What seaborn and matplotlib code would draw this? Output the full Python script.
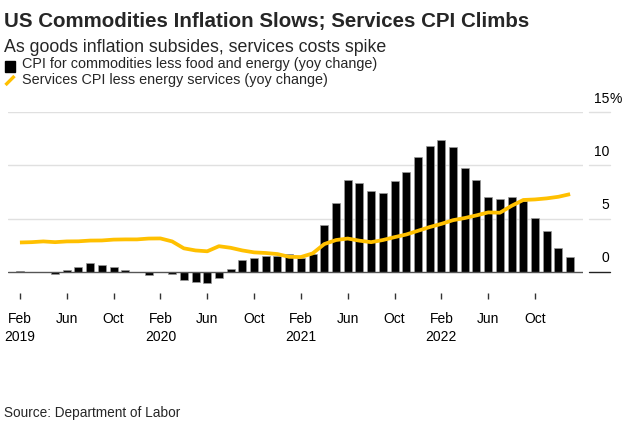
import matplotlib
matplotlib.use("Agg")
import matplotlib.pyplot as plt
import seaborn as sns
import pandas as pd
import numpy as np

# Monthly data, Feb 2019 .. Jan 2023
months = pd.date_range("2019-02-01", "2023-01-01", freq="MS")

goods = [0.1, 0.0, 0.0, -0.2, 0.2, 0.4, 0.8, 0.6, 0.4, 0.2, 0.0, -0.3,
         0.0, -0.2, -0.8, -1.0, -1.1, -0.6, 0.3, 1.1, 1.3, 1.5, 1.5, 1.7,
         1.3, 1.7, 4.4, 6.5, 8.6, 8.3, 7.6, 7.4, 8.5, 9.4, 10.8, 11.8,
         12.4, 11.7, 9.8, 8.6, 7.0, 6.8, 7.0, 6.7, 5.1, 3.8, 2.2, 1.4]

services = [2.75, 2.78, 2.85, 2.78, 2.85, 2.86, 2.93, 2.94, 3.02, 3.04, 3.04, 3.12,
            3.13, 2.85, 2.2, 2.0, 1.92, 2.4, 2.25, 2.0, 1.82, 1.76, 1.66, 1.4,
            1.38, 1.72, 2.6, 2.98, 3.12, 2.92, 2.78, 2.98, 3.25, 3.5, 3.85, 4.2,
            4.5, 4.85, 5.05, 5.3, 5.58, 5.55, 6.2, 6.75, 6.8, 6.9, 7.05, 7.3]

tick_idx = list(range(0, 48, 4))
tick_labels = ["Feb\n2019", "Jun", "Oct", "Feb\n2020", "Jun", "Oct",
               "Feb\n2021", "Jun", "Oct", "Feb\n2022", "Jun", "Oct"]
ytick_vals = [0, 5, 10, 15]
ytick_labels = ["0", "5", "10", "15"]

title = "US Commodities Inflation Slows; Services CPI Climbs"
subtitle = "As goods inflation subsides, services costs spike"
legend1 = "CPI for commodities less food and energy (yoy change)"
legend2 = "Services CPI less energy services (yoy change)"
source = "Source: Department of Labor"

df = pd.DataFrame({"i": np.arange(len(months)), "goods": goods, "services": services})

sns.set_theme(style="white")
plt.rcParams["font.family"] = ["Liberation Sans", "DejaVu Sans"]

W, H = 627, 434
fig = plt.figure(figsize=(W / 100, H / 100), dpi=100)

def fx(px):
    return px / W

def fy(py):
    return 1 - py / H

# axes in pixel terms
left, right, top_px, bot_px = 8, 583, 112.3, 292.5
ax = fig.add_axes([fx(left), fy(bot_px), (right - left) / W, (bot_px - top_px) / H])

yzero_px = 271.7
ppu = (yzero_px - top_px) / 15.0
ymin = -(bot_px - yzero_px) / ppu
ax.set_ylim(ymin, 15)
ax.set_xlim(-1.02, 48.1)

for v in [5, 10, 15]:
    ax.axhline(v, color="#e0e0e0", lw=1.0, zorder=0)

sns.barplot(data=df, x="i", y="goods", color="black", width=0.68,
            edgecolor="#9a9a9a", linewidth=0.5, saturation=1, ax=ax, zorder=2)
ax.axhline(0, color="#555555", lw=1.0, zorder=3)
sns.lineplot(data=df, x="i", y="services", color="#FFC000", lw=2.7, ax=ax,
             zorder=4, solid_capstyle="butt")
ax.set_xlim(-1.02, 48.1)

for s in ax.spines.values():
    s.set_visible(False)
ax.set_xlabel("")
ax.set_ylabel("")
ax.set_yticks([])
ax.set_xticks(tick_idx)
ax.set_xticklabels(tick_labels, fontsize=10, linespacing=1.35, color="black")
ax.tick_params(axis="x", which="major", direction="out", length=4, width=1,
               color="#333333", pad=10, bottom=True)

# right-side y labels with short rule segments
for v, lab in zip(ytick_vals, ytick_labels):
    ypx = yzero_px - v * ppu
    fig.add_artist(plt.Line2D([fx(589.3), fx(610)], [fy(ypx), fy(ypx)],
                              color="#222222" if v == 0 else "#e0e0e0", lw=1.0))
    fig.text(fx(609.5), fy(ypx - 9.5), lab, ha="right", va="baseline",
             fontsize=10, color="black")
    if v == 15:
        fig.text(fx(609.8), fy(ypx - 9.5), "%", ha="left", va="baseline",
                 fontsize=10, color="black")

fig.text(fx(4), fy(26.6), title, fontsize=14.8, fontweight="bold", ha="left", va="baseline")
fig.text(fx(4), fy(51.7), subtitle, fontsize=12.8, ha="left", va="baseline")

# legend
fig.add_artist(plt.Rectangle((fx(5), fy(71.5)), 10 / W, 10 / H, color="black"))
fig.text(fx(22), fy(67.8), legend1, fontsize=10.4, ha="left", va="baseline")
fig.add_artist(plt.Line2D([fx(5.5), fx(14.5)], [fy(85), fy(76)], color="#FFC000",
                          lw=2.4, solid_capstyle="butt"))
fig.text(fx(22), fy(84.3), legend2, fontsize=10.4, ha="left", va="baseline")

fig.text(fx(4), fy(416.5), source, fontsize=9.8, ha="left", va="baseline")

fig.savefig("out.png", dpi=100)
